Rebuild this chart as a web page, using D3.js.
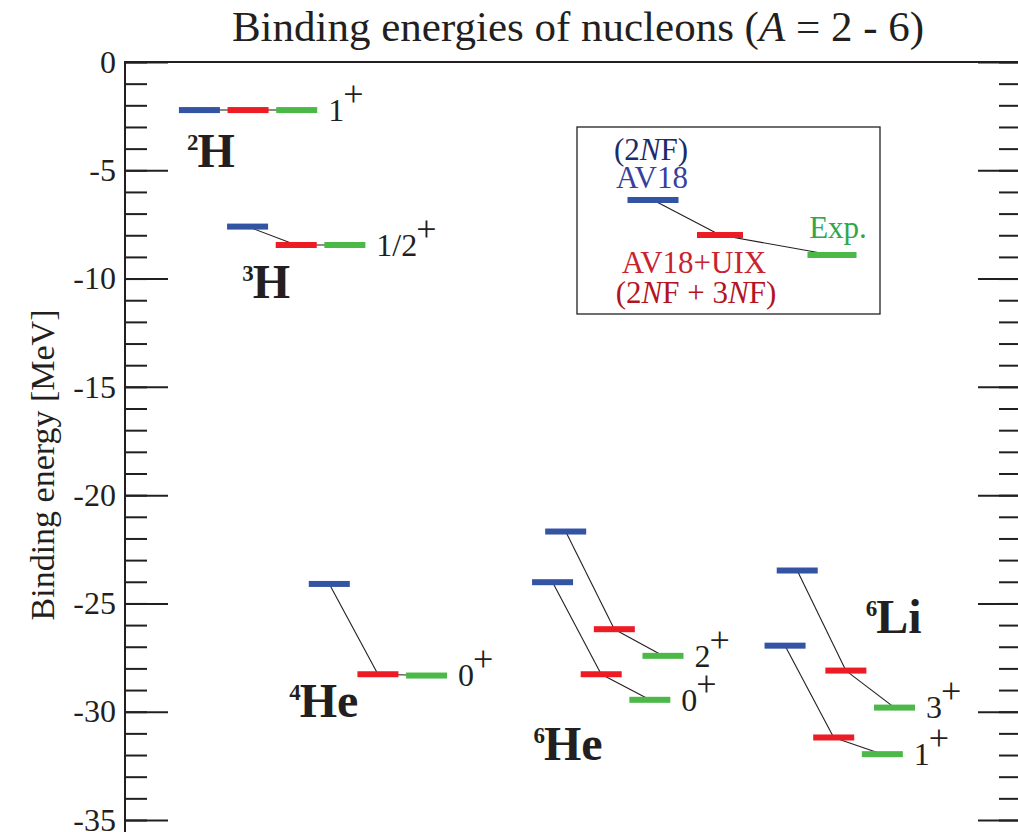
<!DOCTYPE html>
<html>
<head>
<meta charset="utf-8">
<script src="https://cdn.jsdelivr.net/npm/d3@7"></script>
<style>
  body { margin: 0; background: #fff; }
  svg { display: block; }
  text { font-family: "Liberation Serif", "Times New Roman", serif; fill: #231f20; }
</style>
</head>
<body>
<svg id="chart" width="1018" height="832"></svg>
<script>
// ---- data: calculated and measured binding energies (MeV) ----
const models = ["AV18", "AV18+UIX", "Exp."];
const stateNucleus = ["2H", "3H", "4He", "6He", "6He", "6Li", "6Li"];
const stateSpin = ["1", "1/2", "0", "0", "2", "1", "3"];
const energyAV18 = [-2.22, -7.60, -24.10, -24.02, -21.68, -26.95, -23.48];
const energyAV18UIX = [-2.22, -8.45, -28.27, -28.27, -26.19, -31.19, -28.10];
const energyExp = [-2.22, -8.45, -28.33, -29.45, -27.42, -31.96, -29.81];

const nuclei = ["2H", "3H", "4He", "6He", "6Li"];
const nucleusMass = ["2", "3", "4", "6", "6"];
const nucleusSymbol = ["H", "H", "He", "He", "Li"];

const energyTicks = d3.range(0, -36, -5);

// ---- layout ----
// column of the first (AV18) level of each state; models step by one column
const stateColumn = [1.53, 2.52, 4.2, 8.79, 9.06, 13.57, 13.82];
// nucleus name anchors: [column, energy] of the label's left baseline
const nucleusLabelAt = [[1.276, -4.85], [2.408, -10.9], [3.375, -30.24], [8.397, -32.23], [15.23, -26.37]];

const modelColors = ["#3353a3", "#ed1c24", "#4cb848"];
const ink = "#231f20";

const W = 1018, H = 832;
const plotLeft = 125, plotRight = 1020, plotTop = 62;

const svg = d3.select("#chart");

const y = d3.scaleLinear().domain([0, -35]).range([plotTop, 820]);
const x = d3.scaleLinear().domain([0, 18.4]).range([plotLeft, plotRight]);

const energies = [energyAV18, energyAV18UIX, energyExp];
const barW = 41, barH = 6;

// ---- title ----
const title = svg.append("text")
  .attr("x", 578).attr("y", 41)
  .attr("text-anchor", "middle")
  .style("font-size", "43px");
title.append("tspan").text("Binding energies of nucleons (");
title.append("tspan").style("font-style", "italic").text("A");
title.append("tspan").text(" = 2 - 6)");

// ---- y label ----
svg.append("text")
  .attr("transform", `translate(54,465) rotate(-90)`)
  .attr("text-anchor", "middle")
  .style("font-size", "34px")
  .text("Binding energy [MeV]");

// ---- frame ----
svg.append("line")
  .attr("x1", plotLeft).attr("x2", plotLeft)
  .attr("y1", plotTop - 1).attr("y2", H + 2)
  .attr("stroke", ink).attr("stroke-width", 2);
svg.append("line")
  .attr("x1", plotLeft).attr("x2", plotRight)
  .attr("y1", plotTop).attr("y2", plotTop)
  .attr("stroke", ink).attr("stroke-width", 2);

const minorTicks = d3.range(0, -36, -1);

function styleAxis(g) {
  g.select(".domain").remove();
  g.selectAll(".tick line").attr("stroke", ink).attr("stroke-width", 2);
}

// left axis: minor + major ticks pointing inward
svg.append("g").attr("transform", `translate(${plotLeft},0)`)
  .call(d3.axisLeft(y).tickValues(minorTicks).tickSize(-22).tickFormat(""))
  .call(styleAxis);
svg.append("g").attr("transform", `translate(${plotLeft},0)`)
  .call(d3.axisLeft(y).tickValues(energyTicks).tickSize(-43).tickPadding(9)
    .tickFormat(d => String(d)))
  .call(styleAxis)
  .call(g => g.selectAll(".tick text")
    .attr("fill", ink)
    .style("font-family", '"Liberation Serif", "Times New Roman", serif')
    .style("font-size", "32px"));

// right axis: ticks pointing inward
svg.append("g").attr("transform", `translate(${plotRight},0)`)
  .call(d3.axisRight(y).tickValues(minorTicks).tickSize(-21).tickFormat(""))
  .call(styleAxis);
svg.append("g").attr("transform", `translate(${plotRight},0)`)
  .call(d3.axisRight(y).tickValues(energyTicks).tickSize(-42).tickFormat(""))
  .call(styleAxis);

// ---- levels ----
const states = stateNucleus.map((n, i) => ({
  nucleus: n, spin: stateSpin[i], col: stateColumn[i],
  levels: models.map((m, k) => ({ model: m, k, e: energies[k][i] }))
}));

const plot = svg.append("g");

// connecting lines between models, under the bars
states.forEach(s => {
  for (let k = 0; k < models.length - 1; k++) {
    const a = s.levels[k], b = s.levels[k + 1];
    plot.append("line")
      .attr("x1", x(s.col + a.k)).attr("y1", y(a.e))
      .attr("x2", x(s.col + b.k)).attr("y2", y(b.e))
      .attr("stroke", s.nucleus === "2H" ? "#8a8a8a" : ink)
      .attr("stroke-width", s.nucleus === "2H" ? 2 : 1.1);
  }
});

states.forEach(s => {
  plot.selectAll(null).data(s.levels).enter().append("rect")
    .attr("x", d => x(s.col + d.k) - barW / 2)
    .attr("y", d => y(d.e) - barH / 2)
    .attr("width", barW).attr("height", barH)
    .attr("fill", d => modelColors[d.k]);

  // spin-parity label to the right of the experimental level
  const exp = s.levels[2];
  const t = plot.append("text")
    .attr("x", x(s.col + 2) + barW / 2 + 11)
    .attr("y", y(exp.e))
    .attr("dy", "0.34em")
    .style("font-size", "32px");
  t.append("tspan").text(s.spin);
  t.append("tspan").attr("dx", -1).attr("dy", -15)
    .style("font-size", "36px").text("+");
});

// nucleus names
nuclei.forEach((n, i) => {
  const [c, e] = nucleusLabelAt[i];
  const t = plot.append("text")
    .attr("x", x(c)).attr("y", y(e))
    .style("font-weight", "bold");
  t.append("tspan").style("font-size", "23px").attr("dy", -17).text(nucleusMass[i]);
  t.append("tspan").style("font-size", "48px").attr("dy", 17).attr("dx", -1).text(nucleusSymbol[i]);
});

// ---- legend ----
const lg = svg.append("g").attr("transform", "translate(577,127)");
lg.append("rect")
  .attr("width", 303).attr("height", 187)
  .attr("fill", "none").attr("stroke", ink).attr("stroke-width", 1.3);

const legendBars = [
  { cx: 76, cy: 73, w: 51 },
  { cx: 143, cy: 108, w: 46 },
  { cx: 255, cy: 128, w: 49 }
];
for (let k = 0; k < 2; k++) {
  lg.append("line")
    .attr("x1", legendBars[k].cx).attr("y1", legendBars[k].cy)
    .attr("x2", legendBars[k + 1].cx).attr("y2", legendBars[k + 1].cy)
    .attr("stroke", ink).attr("stroke-width", 1.1);
}
lg.selectAll("rect.key").data(legendBars).enter().append("rect")
  .attr("class", "key")
  .attr("x", d => d.cx - d.w / 2).attr("y", d => d.cy - barH / 2)
  .attr("width", d => d.w).attr("height", barH)
  .attr("fill", (d, k) => modelColors[k]);

function legendText(cx, base, color, parts) {
  const t = lg.append("text")
    .attr("x", cx).attr("y", base)
    .attr("text-anchor", "middle")
    .style("font-size", "31px")
    .style("fill", color);
  parts.forEach(p => {
    const s = t.append("tspan").text(p[0]);
    if (p[1]) s.style("font-style", "italic");
  });
}
legendText(74, 33, "#1c2b6b", [["(2"], ["N", true], ["F)"]]);
legendText(75, 61, "#3b3f9c", [["AV18"]]);
legendText(261, 111, "#2ea84b", [["Exp."]]);
legendText(117, 146, "#c7242f", [["AV18+UIX"]]);
legendText(119, 176, "#b3141f", [["(2"], ["N", true], ["F + 3"], ["N", true], ["F)"]]);
</script>
</body>
</html>
